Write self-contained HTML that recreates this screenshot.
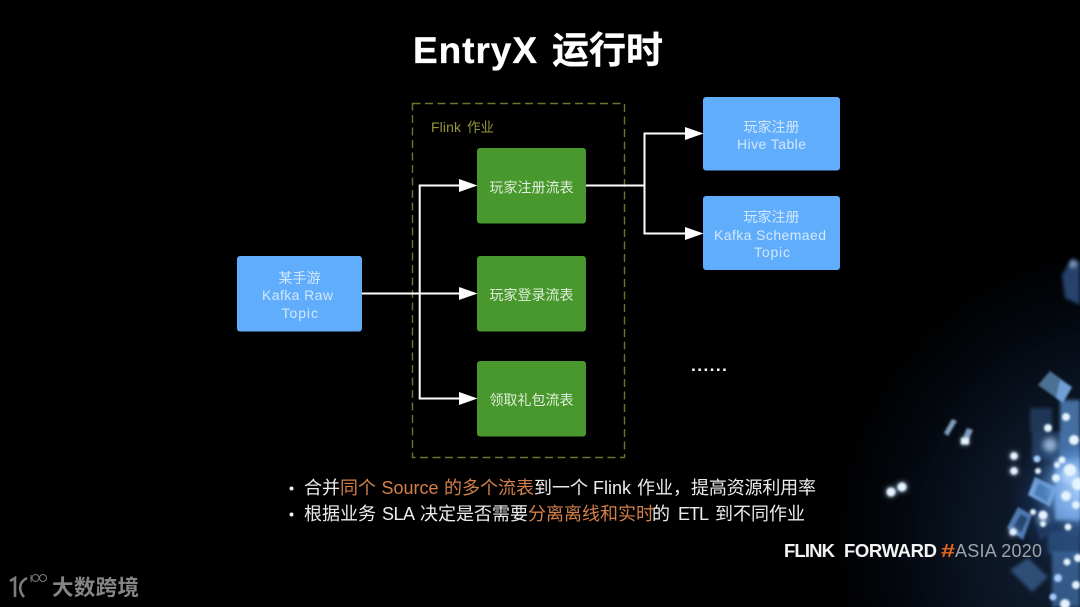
<!DOCTYPE html>
<html lang="zh"><head><meta charset="utf-8"><title>EntryX 运行时</title>
<style>
html,body{margin:0;padding:0;background:#000;width:1080px;height:607px;overflow:hidden}
svg{display:block}
text{font-family:"Liberation Sans","Noto Sans CJK SC",sans-serif}
</style></head><body>
<svg width="1080" height="607" viewBox="0 0 1080 607" xmlns="http://www.w3.org/2000/svg">
<defs>
<radialGradient id="bg" gradientUnits="userSpaceOnUse" cx="1130" cy="540" r="300">
<stop offset="0" stop-color="#15253c"/><stop offset=".5" stop-color="#0b1524"/><stop offset=".8" stop-color="#03060c"/><stop offset="1" stop-color="#000"/>
</radialGradient>
<radialGradient id="core" gradientUnits="userSpaceOnUse" cx="1082" cy="488" r="52">
<stop offset="0" stop-color="#b4d8ff" stop-opacity=".95"/><stop offset=".6" stop-color="#6a9ee0" stop-opacity=".6"/><stop offset="1" stop-color="#2a4d80" stop-opacity="0"/>
</radialGradient>
<radialGradient id="haze" gradientUnits="userSpaceOnUse" cx="1085" cy="500" r="75">
<stop offset="0" stop-color="#2f5c9c" stop-opacity=".8"/><stop offset=".7" stop-color="#1b3a68" stop-opacity=".45"/><stop offset="1" stop-color="#16305a" stop-opacity="0"/>
</radialGradient>
<filter id="b1" x="-50%" y="-50%" width="200%" height="200%"><feGaussianBlur stdDeviation="1.100"/></filter>
<filter id="b2" x="-50%" y="-50%" width="200%" height="200%"><feGaussianBlur stdDeviation="1.800"/></filter>
<filter id="b3" x="-50%" y="-50%" width="200%" height="200%"><feGaussianBlur stdDeviation="3"/></filter>
<filter id="s" x="-5%" y="-5%" width="110%" height="110%"><feGaussianBlur stdDeviation=".35"/></filter>
</defs>
<rect width="1080" height="607" fill="#000"/>
<rect x="800" y="230" width="280" height="377" fill="url(#bg)"/>
<rect x="1000" y="415" width="80" height="192" fill="url(#haze)"/>

<!-- particles -->
<g filter="url(#b2)">
<polygon points="1062,275 1072,258 1080,262 1080,305 1065,298" fill="#33578f" opacity=".75"/>
<circle cx="1073" cy="264" r="4" fill="#6f8db5"/>
<rect x="1030" y="408" width="22" height="24" fill="#2f5480" opacity=".55"/>
<rect x="1032" y="432" width="30" height="28" fill="#33598c" opacity=".55"/>
<rect x="1060" y="400" width="20" height="60" fill="#5d93d4" opacity=".7"/>
<rect x="1055" y="460" width="25" height="60" fill="#8cbcf4" opacity=".85"/>
<rect x="1048" y="530" width="32" height="24" fill="#2f5486" opacity=".7"/>
<rect x="1052" y="552" width="28" height="55" fill="#4473ae" opacity=".7"/>
<polygon points="1010,570 1028,558 1048,577 1032,592" fill="#3a5f90" opacity=".75"/>
</g>
<g filter="url(#b1)">
<polygon points="1050,371 1072,387 1063,403 1038,385" fill="#4e7095"/>
<polygon points="1060,380 1072,387 1063,403 1056,398" fill="#6f9fd6"/>
<polygon points="952,419 957,421 948,436 944,433" fill="#7f9dbd"/>
<polygon points="967,428 973,430 968,441 962,440" fill="#7f9dbd"/>
<polygon points="1035,477 1057,488 1050,507 1028,495" fill="#78a9e0"/>
<polygon points="1039,483 1052,490 1047,502 1034,494" fill="#4d7fb9"/>
<polygon points="1018,507 1032,515 1023,540 1007,528" fill="#4f7bb3"/>
<polygon points="1021,514 1028,518 1021,533 1013,527" fill="#27476f"/>
<polygon points="1032,512 1048,505 1056,530 1040,540" fill="#1f3c66" opacity=".8"/>
<rect x="1030" y="440" width="50" height="96" fill="url(#core)"/>
</g>
<g filter="url(#b3)" fill="#bfe0ff" opacity=".7">
<circle cx="891" cy="492" r="5"/><circle cx="902" cy="487" r="5"/>
<circle cx="965" cy="441" r="4"/>
<circle cx="1014" cy="456" r="4"/><circle cx="1014" cy="471" r="4"/>
<circle cx="1050" cy="445" r="7"/><circle cx="1070" cy="475" r="9"/>
<circle cx="1043" cy="519" r="5"/><circle cx="1013" cy="532" r="4"/>
</g>
<g filter="url(#b1)" fill="#e6f4ff">
<circle cx="891" cy="492" r="4.500"/><circle cx="902" cy="487" r="4.500"/>
<rect x="961" y="438" width="8" height="6.500"/>
<circle cx="1014" cy="456" r="3.800"/><circle cx="1014" cy="471" r="3.800"/>
<circle cx="1066" cy="417" r="4"/><circle cx="1048" cy="428" r="4"/>
<circle cx="1037" cy="459" r="3.500" fill="#a6d0ff"/><circle cx="1038" cy="471" r="3"/>
<circle cx="1062" cy="460" r="3.500"/><circle cx="1057" cy="465" r="3"/>
<circle cx="1074" cy="440" r="5"/><circle cx="1056" cy="478" r="4"/>
<circle cx="1070" cy="470" r="6"/><circle cx="1078" cy="484" r="6"/>
<circle cx="1066" cy="496" r="5"/><circle cx="1076" cy="505" r="4"/>
<circle cx="1033" cy="512" r="3"/><circle cx="1043" cy="515" r="4.500"/><circle cx="1043" cy="524" r="3"/>
<circle cx="1013" cy="532" r="3.500"/><circle cx="1068" cy="527" r="3.500"/>
<circle cx="1067" cy="562" r="3.500"/><circle cx="1058" cy="578" r="4" fill="#a6cfff"/>
<circle cx="1053" cy="597" r="3.500" fill="#a6cfff"/><circle cx="1065" cy="604" r="5"/>
<circle cx="1078" cy="558" r="4"/><circle cx="1076" cy="585" r="4"/>
</g>

<g filter="url(#s)">
<!-- title -->
<g font-size="37" font-weight="700" fill="#fff" stroke="#fff" stroke-width=".3">
<text x="413" y="63" textLength="124" lengthAdjust="spacing">EntryX</text>
<text x="552" y="63" textLength="111" lengthAdjust="spacing">运行时</text>
</g>

<!-- group -->
<rect x="412.500" y="103.500" width="212" height="354" fill="none" stroke="#72722f" stroke-width="1.400" stroke-dasharray="8 4.500"/>
<text x="431" y="132" font-size="14" fill="#96963a" textLength="30" lengthAdjust="spacing">Flink</text>
<text x="467" y="132" font-size="13.500" fill="#96963a">作业</text>

<!-- nodes -->
<rect x="237" y="256" width="125" height="75.500" rx="3" fill="#5fadfb"/>
<rect x="477" y="148" width="109" height="75.500" rx="3" fill="#4a982f"/>
<rect x="477" y="256" width="109" height="75.500" rx="3" fill="#4a982f"/>
<rect x="477" y="361" width="109" height="75.500" rx="3" fill="#4a982f"/>
<rect x="703" y="97" width="137" height="73.500" rx="3" fill="#5fadfb"/>
<rect x="703" y="196" width="137" height="74" rx="3" fill="#5fadfb"/>

<!-- connectors -->
<g fill="none" stroke="#fff" stroke-width="2">
<path d="M362 293.500H462"/>
<path d="M462 185.500H419.700V398.500H462"/>
<path d="M586 185.500H644.500"/>
<path d="M688 133.500H644.500V233.500H688"/>
</g>
<g fill="#fff">
<polygon points="459,179 477.500,185.500 459,192"/>
<polygon points="459,287 477.500,293.500 459,300"/>
<polygon points="459,392 477.500,398.500 459,405"/>
<polygon points="685,127 703.500,133.500 685,140"/>
<polygon points="685,227 703.500,233.500 685,240"/>
</g>

<!-- node text -->
<g font-size="14" fill="#dfeeda" text-anchor="middle">
<text x="531.500" y="192.500">玩家注册流表</text>
<text x="531.500" y="300">玩家登录流表</text>
<text x="531.500" y="405">领取礼包流表</text>
</g>
<g font-size="14" fill="#d3e8ff">
<text x="278.500" y="283">某手游</text>
<text x="262" y="300" textLength="71" lengthAdjust="spacing">Kafka Raw</text>
<text x="281.500" y="318" textLength="36.500" lengthAdjust="spacing">Topic</text>
<text x="743.500" y="132">玩家注册</text>
<text x="737" y="149" textLength="69" lengthAdjust="spacing">Hive Table</text>
<text x="743.500" y="222">玩家注册</text>
<text x="714" y="240" textLength="112" lengthAdjust="spacing">Kafka Schemaed</text>
<text x="754" y="257" textLength="36" lengthAdjust="spacing">Topic</text>
</g>

<!-- ellipsis -->
<g fill="#fff">
<rect x="692.200" y="368.500" width="2.500" height="2.500"/><rect x="698.400" y="368.500" width="2.500" height="2.500"/>
<rect x="704.600" y="368.500" width="2.500" height="2.500"/><rect x="710.800" y="368.500" width="2.500" height="2.500"/>
<rect x="717" y="368.500" width="2.500" height="2.500"/><rect x="723.200" y="368.500" width="2.500" height="2.500"/>
</g>

<!-- bullets -->
<circle cx="291.500" cy="488.500" r="2" fill="#eee"/>
<circle cx="291.500" cy="514.500" r="2" fill="#eee"/>
<g font-size="18" fill="#ececec">
<text x="304" y="494">合并</text>
<text x="340" y="494" fill="#d3804a">同个</text>
<text x="381.500" y="494" fill="#d3804a" textLength="57" lengthAdjust="spacing">Source</text>
<text x="444" y="494" fill="#d3804a">的多个流表</text>
<text x="534" y="494">到一个</text>
<text x="593" y="494" textLength="38" lengthAdjust="spacing">Flink</text>
<text x="637" y="494">作业，</text>
<text x="691" y="494" textLength="125" lengthAdjust="spacing">提高资源利用率</text>
<text x="304" y="520">根据业务</text>
<text x="382" y="520" textLength="33" lengthAdjust="spacing">SLA</text>
<text x="420" y="520">决定是否需要</text>
<text x="528" y="520" fill="#d3804a">分离离线和实时</text>
<text x="652" y="520">的</text>
<text x="678" y="520" textLength="31" lengthAdjust="spacing">ETL</text>
<text x="715" y="520">到不同作业</text>
</g>

<!-- footer -->
<g font-size="18.500" font-weight="700" fill="#f4f4f4">
<text x="784" y="557" textLength="51" lengthAdjust="spacing">FLINK</text>
<text x="844" y="557" textLength="93" lengthAdjust="spacing">FORWARD</text>
</g>
<text x="941" y="557" font-size="18" font-weight="700" fill="#e9651f" textLength="14" lengthAdjust="spacingAndGlyphs">#</text>
<text x="955" y="557" font-size="18" fill="#9da3ab" textLength="87" lengthAdjust="spacing">ASIA 2020</text>

<!-- watermark -->
<g fill="none" stroke="#7d7d7d" stroke-width="2.600">
<path d="M10 581L15 578V597"/>
<path d="M27 578C19 582 18 590 24 597"/>
</g>
<g fill="none" stroke="#7d7d7d" stroke-width="1">
<path d="M31 582V575"/>
<circle cx="35.500" cy="578" r="3.500"/>
<circle cx="43" cy="578" r="3.500"/>
</g>
<text x="52" y="595" font-size="21.500" font-weight="700" fill="#858585" textLength="87" lengthAdjust="spacing">大数跨境</text>
</g>
</svg>
</body></html>
